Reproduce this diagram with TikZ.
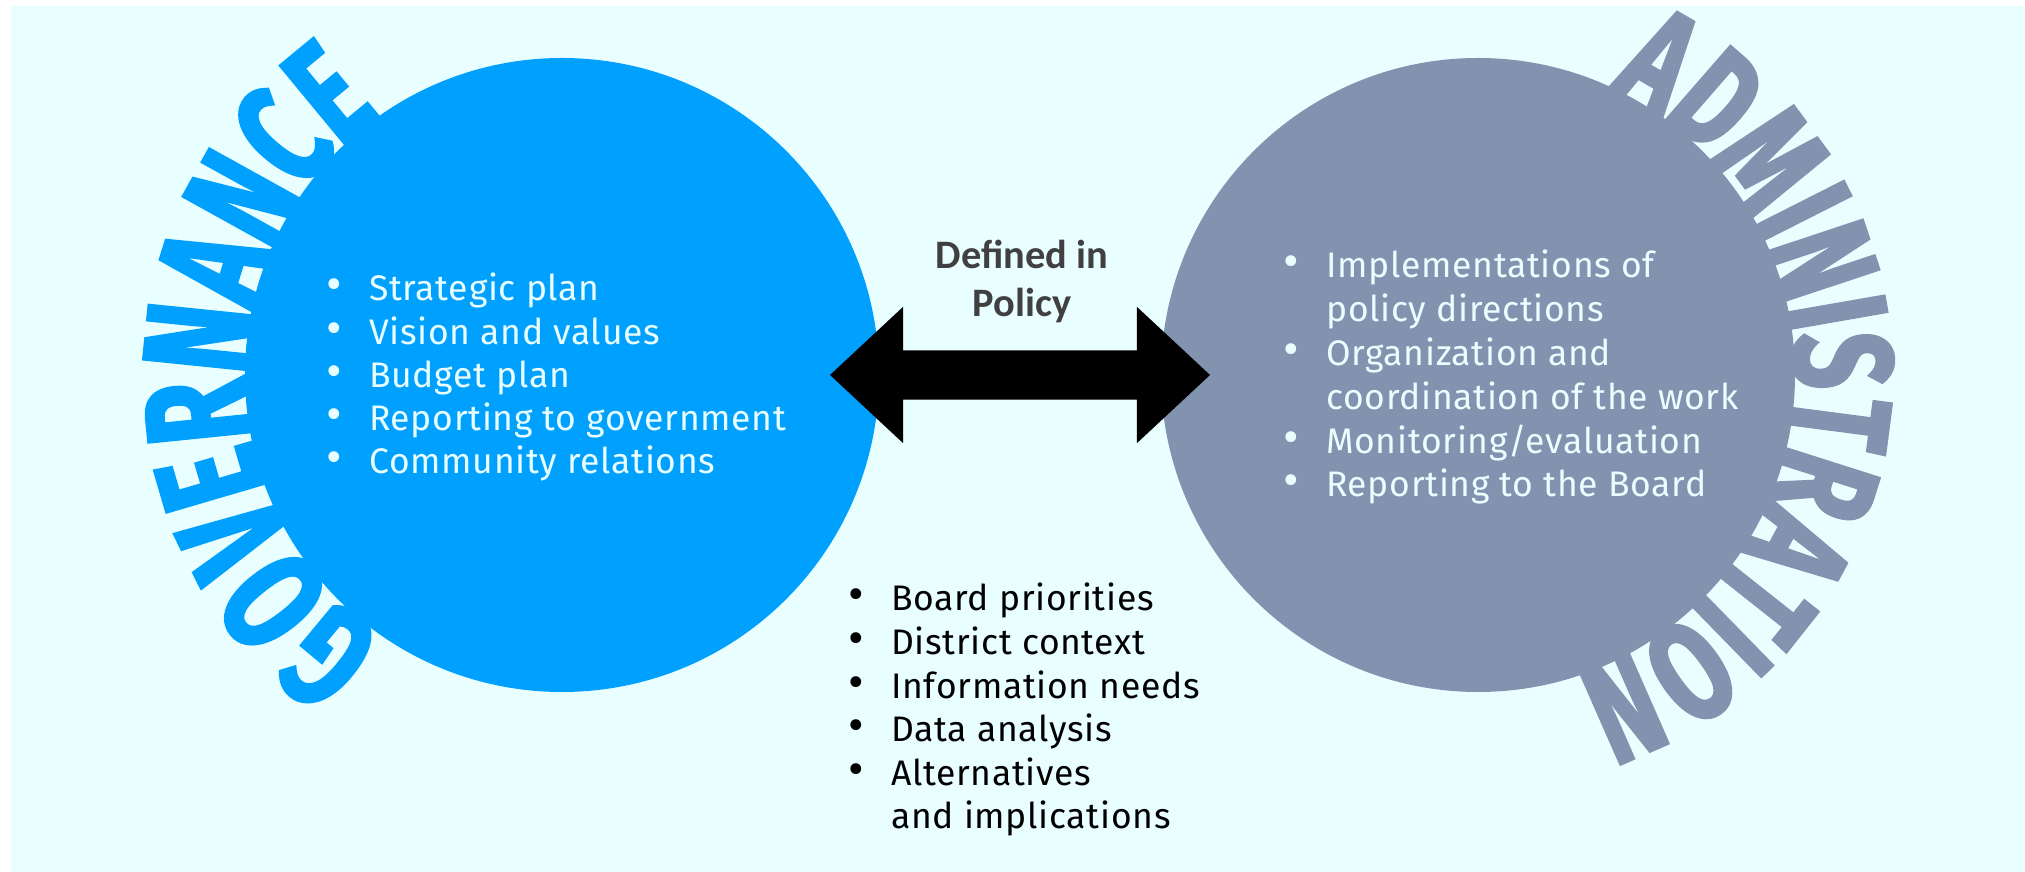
\documentclass[tikz,border=0pt]{standalone}
\usepackage{fontspec}
\setmainfont{Fira Sans}[LetterSpace=2.0]
\newfontfamily\policyfont{Carlito}
\newfontfamily\arcfont{Fira Sans}[FakeStretch=0.69,FakeBold=2]
\usepackage{tikz}
\usetikzlibrary{positioning,calc,shapes.arrows,decorations.text}
\definecolor{govblue}{RGB}{0,160,255}
\definecolor{admgray}{RGB}{130,147,176}
\definecolor{paper}{RGB}{232,254,255}
\definecolor{policygray}{RGB}{64,64,64}
\tikzstyle{realm}=[circle,minimum size=634pt,inner sep=0pt]
\tikzstyle{duties}=[align=left,inner sep=0pt,anchor=base west]
\newcommand{\blt}{\makebox[43pt][l]{\scalebox{1.35}{\textbullet}}}
\newcommand{\follow}{\hspace*{43pt}}

\begin{document}
\begin{tikzpicture}[x=1pt,y=1pt]
\useasboundingbox (0,0) rectangle (2025,872);
\fill[paper] (11,0) rectangle (2025,866);
\node [realm,fill=govblue] (gov) at (562,497) {};
\node [realm,fill=admgray] (adm) at (1478,497) {};
% titles round the circles
\path [decorate,decoration={text along path,text align=center,text color=govblue,
	text={|\arcfont\bfseries\fontsize{147}{147}\selectfont|GOVERNANCE}}]
	($(gov.center)+(270.5:316)$) arc [start angle=270.5,end angle=90.5,radius=316pt];
\path [decorate,decoration={text along path,text align=center,text color=admgray,
	text={|\arcfont\bfseries\fontsize{141}{141}\selectfont|ADMINISTRATION}}]
	($(adm.center)+(86.5:316)$) arc [start angle=86.5,end angle=-93.5,radius=316pt];
% link between them
\node [double arrow,fill=black,inner xsep=0pt,inner ysep=24.5pt,minimum height=380pt,minimum width=136pt,
	double arrow head extend=43.5pt,double arrow tip angle=86] (link) at ($(gov.east)!0.5!(adm.west)$) {};
\node [font=\policyfont\bfseries\fontsize{40.4}{48}\selectfont,text=policygray,align=center,inner sep=0pt,anchor=south] (policy) at (1022,549) {Defined in\\Policy};
% lists (base = last line)
\node [duties,text=paper,font=\fontsize{35.5}{43.3}\selectfont] (govlist) at (326,398)
	{\blt Strategic plan\\\blt Vision and values\\\blt Budget plan\\\blt Reporting to government\\\blt Community relations};
\node [duties,text=paper,font=\fontsize{35.5}{43.8}\selectfont] (admlist) at (1283,375)
	{\blt Implementations of\\\follow policy directions\\\blt Organization and\\\follow coordination of the work\\\blt Monitoring/evaluation\\\blt Reporting to the Board};
\node [duties,text=black,font=\fontsize{35.5}{43.6}\selectfont] (needs) at (848,43)
	{\blt Board priorities\\\blt District context\\\blt Information needs\\\blt Data analysis\\\blt Alternatives\\\follow and implications};
\end{tikzpicture}
\end{document}
